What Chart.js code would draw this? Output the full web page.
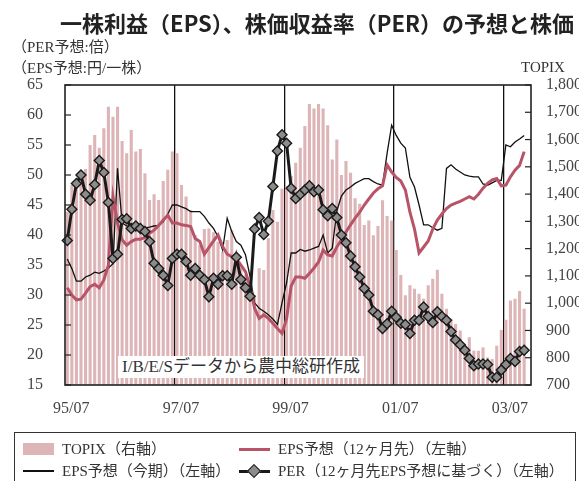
<!DOCTYPE html>
<html>
<head>
<meta charset="utf-8">
<script src="https://cdn.jsdelivr.net/npm/chart.js@4.4.0/dist/chart.umd.min.js"></script>
<style>
body { margin: 0; background: #fff; }
#wrap { position: relative; width: 579px; height: 481px; overflow: hidden; }
.t { position: absolute; white-space: nowrap; font-family: "Liberation Serif", "Noto Sans CJK JP", serif; color: #333; }
#title { right: 5px; top: 6px; font-family: "Noto Sans CJK JP", sans-serif; font-weight: bold; font-size: 22px; color: #222; }
#note { left: 118px; top: 356px; background: #fff; padding: 0 4px; font-size: 17px; line-height: 22px; }
#legend { position: absolute; left: 14px; top: 432px; width: 562px; height: 60px; border: 1.5px solid #333; box-sizing: border-box; }
.item { position: absolute; font-family: "Liberation Serif", "Noto Sans CJK JP", serif; font-size: 15px; color: #333; white-space: nowrap; line-height: 20px; }
.sw { position: absolute; }
</style>
</head>
<body>
<div id="wrap">
  <canvas id="myChart" width="579" height="481"></canvas>
  <div class="t" id="title">一株利益（EPS）、株価収益率（PER）の予想と株価</div>
  <div class="t" style="left:12px;top:35px;font-size:15px;">（PER予想:倍）</div>
  <div class="t" style="left:12px;top:56px;font-size:15px;">（EPS予想:円/一株）</div>
  <div class="t" style="left:521px;top:59px;font-size:15px;">TOPIX</div>
  <div class="t" id="note">I/B/E/Sデータから農中総研作成</div>
  <div id="legend"></div>
</div>
<script>
// monthly categories 95/07 .. 03/12
var months = [];
for (var k = 0; k < 102; k++) {
    var m = 6 + k, yy = (95 + Math.floor(m / 12)) % 100, mm = m % 12 + 1;
    months.push(String(yy).padStart(2, '0') + '/' + String(mm).padStart(2, '0'));
}
var tickLabels = ['95/07', '97/07', '99/07', '01/07', '03/07'];
var dividerMonths = ['97/07', '99/07', '01/07', '03/07'];

var seriesNames = ['TOPIX（右軸）', 'EPS予想（12ヶ月先）（左軸）', 'EPS予想（今期）（左軸）', 'PER（12ヶ月先EPS予想に基づく）（左軸）'];

// TOPIX (right axis)
var topix = [
    1335, 1433, 1440, 1482, 1492, 1580, 1617, 1570, 1641, 1720, 1684, 1720,
    1595, 1550, 1635, 1556, 1565, 1476, 1378, 1399, 1378, 1448, 1489, 1556,
    1550, 1433, 1391, 1342, 1250, 1213, 1272, 1274, 1260, 1226, 1189, 1232,
    1268, 1177, 1140, 1103, 1055, 1030, 1128, 1122, 1238, 1342, 1299, 1420,
    1430, 1466, 1515, 1570, 1650, 1730, 1714, 1730, 1714, 1652, 1527, 1600,
    1470, 1521, 1478, 1385, 1365, 1287, 1303, 1249, 1283, 1377, 1320, 1303,
    1195, 1103, 1029, 1066, 1053, 1035, 1016, 1066, 1090, 1123, 1035, 980,
    943, 924, 900, 850, 875, 826, 826, 838, 801, 795, 844, 902,
    939, 1010, 1016, 1045, 980
];

// EPS forecast, 12 months ahead (left axis)
var eps12 = [
    31.2, 30.0, 29.2, 29.3, 30.3, 31.4, 31.8, 31.2, 32.5, 35.0, 46.4, 42.0,
    39.2, 38.3, 38.9, 39.3, 39.3, 39.6, 40.3, 40.8, 41.6, 42.5, 43.3, 42.0,
    42.0, 41.7, 41.6, 41.4, 39.4, 38.9, 36.8, 37.9, 39.0, 40.0, 38.1, 36.8,
    36.4, 36.1, 35.0, 33.9, 31.4, 27.8, 26.1, 26.7, 26.1, 25.3, 24.4, 23.6,
    26.0, 31.5, 33.0, 33.0, 32.8, 33.6, 34.5, 35.5, 37.5, 36.7, 36.5, 38.0,
    39.2, 40.5, 41.7, 42.8, 43.8, 45.0, 46.0, 47.0, 47.7, 48.2, 51.7, 50.5,
    49.6, 49.0, 47.5, 43.8, 41.0, 37.0, 38.0, 39.0, 41.0, 42.5, 43.5, 44.4,
    45.0, 45.3, 45.6, 46.0, 46.4, 46.0, 46.8, 47.8, 48.6, 49.2, 49.4, 48.2,
    48.3, 49.7, 50.8, 51.6, 53.9
];

// EPS forecast, current fiscal year (left axis)
var epsCur = [
    36.0, 34.4, 32.3, 32.3, 33.0, 33.3, 33.8, 33.6, 34.0, 34.5, 35.2, 51.1,
    42.0, 41.5, 41.3, 41.2, 41.4, 41.2, 41.3, 41.5, 41.6, 42.2, 43.5, 45.0,
    45.0, 44.7, 44.4, 43.9, 43.9, 43.9, 43.1, 42.0, 41.1, 39.7, 37.5, 42.8,
    40.6, 38.9, 38.3, 36.7, 33.1, 28.7, 27.8, 27.3, 26.7, 26.0, 25.1, 28.7,
    32.0, 37.0, 37.0, 37.6, 37.3, 37.5, 37.8, 38.1, 40.0, 37.0, 37.8, 44.0,
    46.5, 47.5, 48.0, 48.6, 49.0, 49.4, 49.4, 48.9, 48.5, 48.3, 53.6, 58.3,
    56.6, 55.3, 54.5, 49.6, 48.0, 45.0, 41.7, 41.7, 41.2, 40.8, 41.1, 51.1,
    51.7, 51.0, 50.5, 50.0, 49.8, 49.7, 49.7, 48.5, 48.3, 48.7, 49.1, 49.1,
    55.0, 54.7, 55.5, 56.0, 56.6
];

// PER based on 12-month-ahead EPS (left axis)
var per = [
    39.1, 44.3, 48.6, 50.0, 46.8, 45.8, 48.4, 52.4, 50.4, 45.4, 36.1, 36.8,
    42.6, 42.7, 41.1, 41.5, 41.1, 40.6, 38.9, 35.3, 34.4, 33.3, 31.6, 36.1,
    36.8, 36.8, 35.6, 33.3, 34.4, 33.3, 32.6, 29.7, 32.8, 31.8, 33.2, 33.2,
    31.8, 36.3, 32.6, 31.2, 29.8, 41.0, 42.9, 40.1, 42.3, 48.1, 54.0, 56.7,
    55.3, 47.8, 46.1, 46.8, 47.5, 48.2, 47.2, 47.5, 44.2, 43.2, 44.4, 42.9,
    40.0, 38.7, 36.5, 34.7, 33.0, 31.1, 30.0, 27.3, 26.7, 24.4, 25.2, 27.3,
    26.3, 25.3, 25.1, 23.6, 25.8, 25.8, 28.0, 26.4, 25.4, 27.2, 26.4, 25.8,
    23.9, 22.5, 21.7, 20.8, 19.4, 18.2, 18.5, 18.5, 18.4, 16.3, 16.3, 17.5,
    18.4, 19.4, 18.9, 20.6, 20.8
];

var serif = 'Liberation Serif, Noto Sans CJK JP, serif';

// inner tick marks and frame round the plot
var frame = {
    id: 'frame',
    afterDatasetsDraw: function(chart) {
        var ctx = chart.ctx, a = chart.chartArea, s = chart.scales;
        ctx.save();
        ctx.strokeStyle = '#222';
        ctx.lineWidth = 1.2;
        s.y.ticks.forEach(function(t, i) {
            var py = s.y.getPixelForTick(i);
            ctx.beginPath(); ctx.moveTo(a.left, py); ctx.lineTo(a.left + 6, py); ctx.stroke();
        });
        s.y1.ticks.forEach(function(t, i) {
            var py = s.y1.getPixelForTick(i);
            ctx.beginPath(); ctx.moveTo(a.right, py); ctx.lineTo(a.right - 6, py); ctx.stroke();
        });
        ctx.lineWidth = 1.6;
        ctx.strokeRect(a.left, a.top, a.right - a.left, a.bottom - a.top);
        ctx.restore();
    }
};

var ctx = document.getElementById('myChart').getContext('2d');
var myChart = new Chart(ctx, {
    type: 'bar',
    data: {
        labels: months,
        datasets: [{
            label: seriesNames[0],
            data: topix,
            yAxisID: 'y1',
            backgroundColor: 'rgb(221,181,183)',
            barPercentage: 0.68,
            categoryPercentage: 1.0,
            order: 4
        }, {
            type: 'line',
            label: seriesNames[1],
            data: eps12,
            yAxisID: 'y',
            borderColor: 'rgb(184,84,104)',
            borderWidth: 3,
            pointRadius: 0,
            tension: 0,
            order: 2
        }, {
            type: 'line',
            label: seriesNames[2],
            data: epsCur,
            yAxisID: 'y',
            borderColor: '#111',
            borderWidth: 1.3,
            pointRadius: 0,
            tension: 0,
            order: 3
        }, {
            type: 'line',
            label: seriesNames[3],
            data: per,
            yAxisID: 'y',
            borderColor: '#1a1a1a',
            borderWidth: 3,
            pointStyle: 'rectRot',
            pointRadius: 5,
            pointBackgroundColor: '#8c8c8c',
            pointBorderColor: '#1a1a1a',
            pointBorderWidth: 1.4,
            tension: 0,
            order: 1
        }]
    },
    options: {
        responsive: false,
        animation: false,
        layout: { padding: { top: 85, left: 0, right: 0, bottom: 0 } },
        plugins: {
            legend: { display: false },
            tooltip: { enabled: false }
        },
        scales: {
            x: {
                offset: true,
                border: { display: false },
                grid: {
                    offset: true,
                    drawTicks: false,
                    lineWidth: 1.3,
                    color: function(c) {
                        return dividerMonths.indexOf(months[c.index]) >= 0 ? '#111' : 'rgba(0,0,0,0)';
                    }
                },
                ticks: {
                    autoSkip: false,
                    maxRotation: 0,
                    padding: 14,
                    labelOffset: 4,
                    color: '#444',
                    font: { family: serif, size: 16 },
                    callback: function(v) {
                        var l = months[v];
                        return tickLabels.indexOf(l) >= 0 ? l : '';
                    }
                },
                afterFit: function(s) { s.height = 96; }
            },
            y: {
                position: 'left',
                min: 15,
                max: 65,
                border: { display: false },
                grid: { display: false },
                ticks: {
                    stepSize: 5,
                    padding: 14,
                    color: '#444',
                    font: { family: serif, size: 16 }
                },
                afterFit: function(s) { s.width = 65; }
            },
            y1: {
                position: 'right',
                min: 700,
                max: 1800,
                border: { display: false },
                grid: { display: false },
                ticks: {
                    stepSize: 100,
                    padding: 7,
                    color: '#444',
                    font: { family: serif, size: 16 },
                    callback: function(v) { return v.toLocaleString('en-US'); }
                },
                afterFit: function(s) { s.width = 48; }
            }
        }
    },
    plugins: [frame]
});

// legend box, built from the datasets
var legend = document.getElementById('legend');
var spots = [[8, 6], [224, 6], [8, 28], [224, 28]];
[0, 1, 2, 3].forEach(function(di, n) {
    var ds = myChart.data.datasets[di];
    var p = spots[n];
    var sw = document.createElement('div');
    sw.className = 'sw';
    if (di === 0) {
        sw.style.cssText = 'left:' + p[0] + 'px;top:' + (p[1] + 4) + 'px;width:31px;height:12px;background:' + ds.backgroundColor;
    } else {
        sw.style.cssText = 'left:' + p[0] + 'px;top:' + (p[1] + 10 - ds.borderWidth / 2) + 'px;width:31px;height:' + ds.borderWidth + 'px;background:' + ds.borderColor;
    }
    legend.appendChild(sw);
    if (di === 3) {
        var d = document.createElement('div');
        d.className = 'sw';
        d.style.cssText = 'left:' + (p[0] + 10) + 'px;top:' + (p[1] + 5) + 'px;width:8px;height:8px;background:#8c8c8c;border:1.4px solid #1a1a1a;transform:rotate(45deg);';
        legend.appendChild(d);
    }
    var tx = document.createElement('div');
    tx.className = 'item';
    tx.style.left = (p[0] + 39) + 'px';
    tx.style.top = p[1] + 'px';
    tx.textContent = ds.label;
    legend.appendChild(tx);
});
</script>
</body>
</html>
